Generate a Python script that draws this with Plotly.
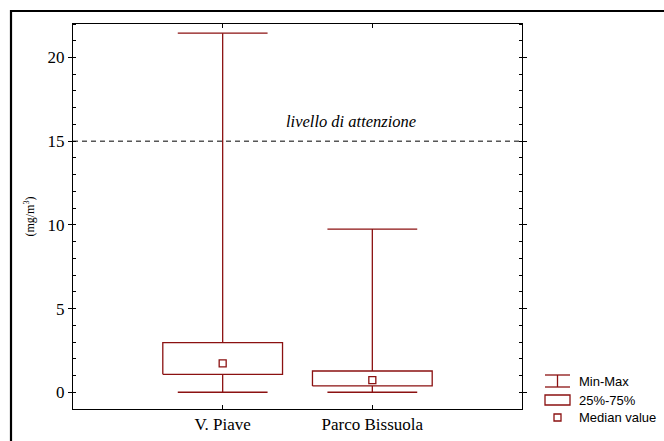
import plotly.graph_objects as go

categories = ["V. Piave", "Parco Bissuola"]
mins = [0.0, 0.0]
q1s = [1.07, 0.38]
medians = [1.73, 0.72]
q3s = [2.97, 1.27]
maxs = [21.45, 9.75]
threshold = 15
threshold_label = "livello di attenzione"
legend_labels = ["Min-Max", "25%-75%", "Median value"]

RED = "#8b1111"
BOX_HALF = 0.4
CAP_HALF = 0.3

fig = go.Figure()
for i, cat in enumerate(categories):
    x0 = i
    fig.add_trace(go.Scatter(
        x=[x0, x0, None, x0, x0, None, x0 - CAP_HALF, x0 + CAP_HALF, None, x0 - CAP_HALF, x0 + CAP_HALF],
        y=[mins[i], q1s[i], None, q3s[i], maxs[i], None, mins[i], mins[i], None, maxs[i], maxs[i]],
        mode="lines", line=dict(color=RED, width=1.3), showlegend=False, hoverinfo="skip"))
    fig.add_trace(go.Scatter(
        x=[x0 - BOX_HALF, x0 + BOX_HALF, x0 + BOX_HALF, x0 - BOX_HALF, x0 - BOX_HALF],
        y=[q1s[i], q1s[i], q3s[i], q3s[i], q1s[i]],
        mode="lines", line=dict(color=RED, width=1.3), showlegend=False, hoverinfo="skip"))
    fig.add_trace(go.Scatter(
        x=[x0], y=[medians[i]], mode="markers",
        marker=dict(symbol="square-open", size=7, color=RED, line=dict(width=1.3)),
        showlegend=False))

fig.add_trace(go.Scatter(x=[-1, 2], y=[threshold, threshold], mode="lines",
                         line=dict(color="black", width=1, dash="5px,4px"),
                         showlegend=False, hoverinfo="skip"))
fig.add_annotation(x=0.86, y=threshold, yshift=20, text="<i>" + threshold_label + "</i>", showarrow=False,
                   font=dict(family="Liberation Serif", size=16.5, color="black"),
                   xref="x", yref="y")

L, R, T, B = 73, 522, 24, 409
def px(x):
    return (x - L) / (R - L)
def py(y):
    return (B - y) / (B - T)

shapes = []
shapes.append(dict(type="rect", xref="paper", yref="paper",
                   x0=px(11), x1=px(700), y0=py(470), y1=py(11),
                   line=dict(color="black", width=2.2)))
lx0, lx1 = px(545), px(570)
lxm = px(557.5)
y_mm = 381
shapes += [
    dict(type="line", xref="paper", yref="paper", x0=lx0, x1=lx1, y0=py(y_mm - 6), y1=py(y_mm - 6), line=dict(color=RED, width=1.3)),
    dict(type="line", xref="paper", yref="paper", x0=lx0, x1=lx1, y0=py(y_mm + 6), y1=py(y_mm + 6), line=dict(color=RED, width=1.3)),
    dict(type="line", xref="paper", yref="paper", x0=lxm, x1=lxm, y0=py(y_mm - 6), y1=py(y_mm + 6), line=dict(color=RED, width=1.3)),
    dict(type="rect", xref="paper", yref="paper", x0=lx0, x1=lx1, y0=py(405), y1=py(395), line=dict(color=RED, width=1.3)),
    dict(type="rect", xref="paper", yref="paper", x0=px(554), x1=px(561), y0=py(421), y1=py(414), line=dict(color=RED, width=1.3)),
]
for lab, yy in zip(legend_labels, [381, 400, 418]):
    fig.add_annotation(x=px(577), y=py(yy), xref="paper", yref="paper", text=lab,
                       showarrow=False, xanchor="left", yanchor="middle",
                       font=dict(family="Liberation Sans", size=13, color="black"))

fig.update_layout(
    width=664, height=441,
    margin=dict(l=L, r=664 - R, t=T, b=441 - B, autoexpand=False),
    paper_bgcolor="white", plot_bgcolor="white",
    shapes=shapes,
    showlegend=False,
    font=dict(family="Liberation Serif", color="black"),
)
fig.update_xaxes(range=[-1, 2], tickvals=list(range(len(categories))), ticktext=categories,
                 showgrid=False, zeroline=False, showline=True, linecolor="black", linewidth=1,
                 mirror="allticks", ticks="inside", ticklen=4, tickcolor="black", automargin=False,
                 tickfont=dict(family="Liberation Serif", size=17))
fig.update_yaxes(range=[-1, 22], tickvals=[0, 5, 10, 15, 20],
                 showgrid=False, zeroline=False, showline=True, linecolor="black", linewidth=1,
                 mirror="allticks", ticks="outside", ticklen=4, tickcolor="black", automargin=False,
                 minor=dict(dtick=1, tick0=0, ticks="inside", ticklen=3, tickcolor="black"),
                 tickfont=dict(family="Liberation Serif", size=17),
                 title=dict(text="(mg/m<sup>3</sup>)", font=dict(family="Liberation Serif", size=12), standoff=10))

fig.write_html("out.html", config={"displayModeBar": False},
               post_script="document.body.style.margin='0';document.body.style.overflow='hidden';")
